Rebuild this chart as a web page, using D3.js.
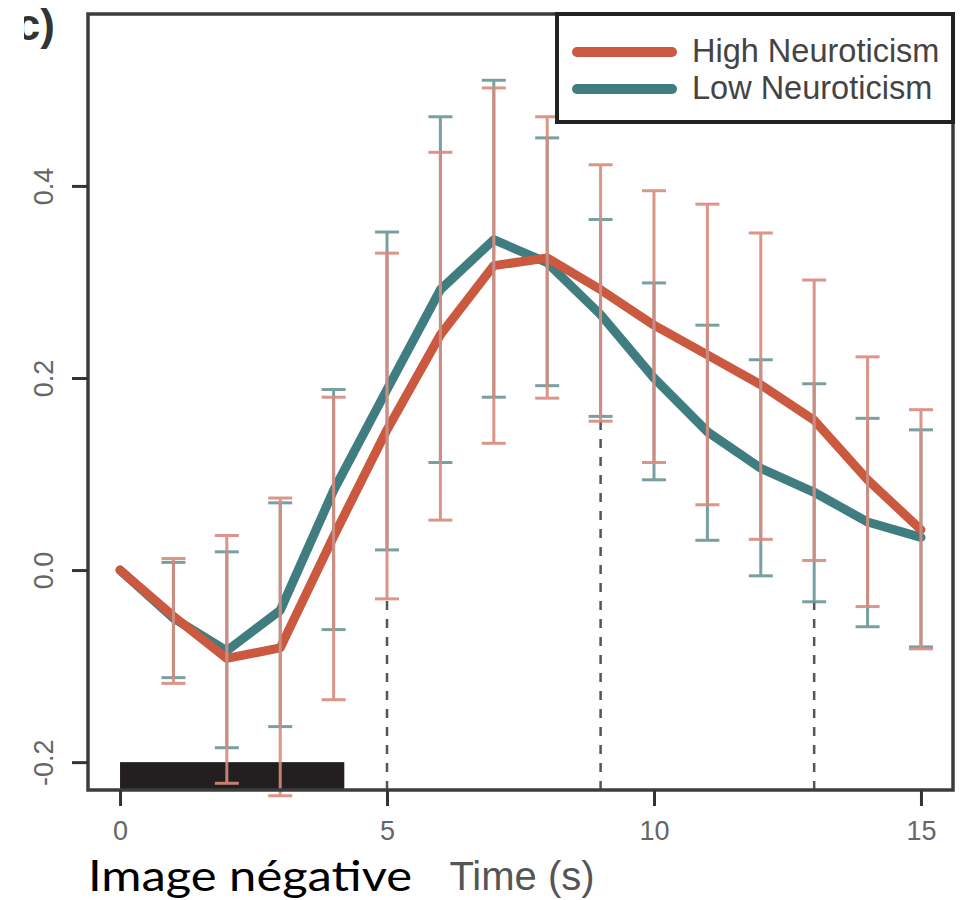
<!DOCTYPE html>
<html>
<head>
<meta charset="utf-8">
<script src="https://cdn.jsdelivr.net/npm/d3@7"></script>
<style>
  body { margin: 0; background: #fff; }
  svg { display: block; }
</style>
</head>
<body>
<svg id="chart" width="960" height="900"></svg>
<script>
// data
var times = [0, 1, 2, 3, 4, 5, 6, 7, 8, 9, 10, 11, 12, 13, 14, 15]
var highMean  = [0, -0.048, -0.092, -0.081, 0.035, 0.146, 0.245, 0.317, 0.325, 0.292, 0.255, 0.224, 0.193, 0.156, 0.094, 0.042]
var lowMean   = [0, -0.050, -0.084, -0.042, 0.083, 0.188, 0.292, 0.344, 0.320, 0.266, 0.200, 0.144, 0.106, 0.081, 0.050, 0.034]
var highLower = [null, -0.118, -0.222, -0.235, -0.135, -0.030, 0.052, 0.132, 0.179, 0.155, 0.112, 0.068, 0.032, 0.010, -0.038, -0.082]
var highUpper = [null, 0.012, 0.036, 0.075, 0.180, 0.330, 0.435, 0.502, 0.472, 0.422, 0.395, 0.381, 0.351, 0.302, 0.222, 0.167]
var lowLower  = [null, -0.112, -0.185, -0.163, -0.062, 0.021, 0.112, 0.180, 0.192, 0.160, 0.094, 0.031, -0.006, -0.033, -0.059, -0.080]
var lowUpper  = [null, 0.008, 0.019, 0.070, 0.188, 0.352, 0.472, 0.510, 0.450, 0.365, 0.299, 0.255, 0.219, 0.194, 0.158, 0.146]
var xTicks = [0, 5, 10, 15]
var yTicks = [-0.2, 0.0, 0.2, 0.4]
var markerTimes = [5, 9, 13]
var stimulus = {start: 0, end: 4.2, top: -0.2}
var groups = ["High Neuroticism", "Low Neuroticism"]

var colors = {
  "High Neuroticism": {line: "#ca5940", err: "#d98a7d"},
  "Low Neuroticism":  {line: "#3f7d80", err: "#6a9698"}
}

var box = {left: 88, right: 953, top: 14, bottom: 790}

var xScale = d3.scaleLinear().domain([-0.6, 15.6]).range([box.left, box.right])
var yScale = d3.scaleLinear().domain([-0.229, 0.579]).range([box.bottom, box.top])

var svg = d3.select("#chart")

var series = [
  {name: groups[0], mean: highMean, lower: highLower, upper: highUpper},
  {name: groups[1], mean: lowMean, lower: lowLower, upper: lowUpper}
]

// stimulus bar
svg.append("rect")
  .attr("x", xScale(stimulus.start))
  .attr("y", yScale(stimulus.top))
  .attr("width", xScale(stimulus.end) - xScale(stimulus.start))
  .attr("height", box.bottom - yScale(stimulus.top))
  .attr("fill", "#231f20")

// dashed markers, up to the lowest error bar at that time
svg.selectAll(".marker").data(markerTimes).enter().append("line")
  .attr("class", "marker")
  .attr("x1", d => xScale(d)).attr("x2", d => xScale(d))
  .attr("y1", box.bottom)
  .attr("y2", d => yScale(Math.min(highLower[times.indexOf(d)], lowLower[times.indexOf(d)])))
  .attr("stroke", "#555").attr("stroke-width", 2.5)
  .attr("stroke-dasharray", "9,9")

// mean lines (low first, high on top)
var line = d3.line().x((d, i) => xScale(times[i])).y(d => yScale(d))
series.slice().reverse().forEach(s => {
  svg.append("path")
    .datum(s.mean)
    .attr("d", line)
    .attr("fill", "none")
    .attr("stroke", colors[s.name].line)
    .attr("stroke-width", 9)
    .attr("stroke-linejoin", "round")
    .attr("stroke-linecap", "round")
})

// error bars
var capHalf = 12
series.slice().reverse().forEach(s => {
  var pts = times.map((t, i) => ({t: t, lo: s.lower[i], hi: s.upper[i]})).filter(d => d.lo !== null)
  var g = svg.append("g")
    .attr("stroke", colors[s.name].err)
    .attr("stroke-width", 3)
    .attr("opacity", 0.9)
  g.selectAll(".bar").data(pts).enter().append("line")
    .attr("x1", d => xScale(d.t)).attr("x2", d => xScale(d.t))
    .attr("y1", d => yScale(d.lo)).attr("y2", d => yScale(d.hi))
  g.selectAll(".capHi").data(pts).enter().append("line")
    .attr("x1", d => xScale(d.t) - capHalf).attr("x2", d => xScale(d.t) + capHalf)
    .attr("y1", d => yScale(d.hi)).attr("y2", d => yScale(d.hi))
  g.selectAll(".capLo").data(pts).enter().append("line")
    .attr("x1", d => xScale(d.t) - capHalf).attr("x2", d => xScale(d.t) + capHalf)
    .attr("y1", d => yScale(d.lo)).attr("y2", d => yScale(d.lo))
})

// box
svg.append("rect")
  .attr("x", box.left).attr("y", box.top)
  .attr("width", box.right - box.left).attr("height", box.bottom - box.top)
  .attr("fill", "none").attr("stroke", "#3c3c3c").attr("stroke-width", 3.5)

// axes
var fmtY = d => d3.format(".1f")(d).replace("\u2212", "-")
var xAxis = d3.axisBottom(xScale).tickValues(xTicks).tickSize(16).tickPadding(15).tickFormat(d3.format("d"))
var yAxis = d3.axisLeft(yScale).tickValues(yTicks).tickSize(16).tickFormat(fmtY)

var gx = svg.append("g").attr("transform", `translate(0,${box.bottom})`).call(xAxis)
gx.select(".domain").remove()
gx.selectAll("line").attr("stroke", "#333").attr("stroke-width", 3)
gx.selectAll("text").attr("fill", "#666").style("font", "27px 'Liberation Sans', Arial, sans-serif")

var gy = svg.append("g").attr("transform", `translate(${box.left},0)`).call(yAxis)
gy.select(".domain").remove()
gy.selectAll("line").attr("stroke", "#333").attr("stroke-width", 3)
gy.selectAll("text")
  .attr("fill", "#666")
  .attr("x", null).attr("dy", null)
  .attr("text-anchor", "middle")
  .attr("transform", "translate(-35,0) rotate(-90)")
  .style("font", "27px 'Liberation Sans', Arial, sans-serif")

// axis title
svg.append("text")
  .attr("x", 522).attr("y", 890)
  .attr("text-anchor", "middle")
  .attr("fill", "#555")
  .style("font", "40px 'Liberation Sans', Arial, sans-serif")
  .text("Time (s)")

// panel label, cut at the left like the source crop
svg.append("clipPath").attr("id", "labelClip")
  .append("rect").attr("x", 24).attr("y", 0).attr("width", 60).attr("height", 60)
svg.append("text")
  .attr("clip-path", "url(#labelClip)")
  .attr("x", 55).attr("y", 40)
  .attr("text-anchor", "end")
  .attr("fill", "#333")
  .style("font", "bold 44px 'Liberation Sans', Arial, sans-serif")
  .text("(c)")

// legend
var legend = svg.append("g")
legend.append("rect")
  .attr("x", 557).attr("y", 14).attr("width", 396).attr("height", 108)
  .attr("fill", "#fff").attr("stroke", "#222").attr("stroke-width", 4)
groups.forEach((name, i) => {
  var y = 52 + i * 37
  legend.append("line")
    .attr("x1", 577).attr("x2", 672).attr("y1", y).attr("y2", y)
    .attr("stroke", colors[name].line).attr("stroke-width", 10)
    .attr("stroke-linecap", "round")
  legend.append("text")
    .attr("x", 692).attr("y", y + 10)
    .attr("fill", "#444")
    .style("font", "32.5px 'Liberation Sans', Arial, sans-serif")
    .text(name)
})

// caption below the plot
svg.append("text")
  .attr("x", 88).attr("y", 891)
  .attr("fill", "#000")
  .attr("textLength", 324)
  .attr("lengthAdjust", "spacingAndGlyphs")
  .style("font", "43px Lato, 'Open Sans', sans-serif")
  .text("Image négative")
</script>
</body>
</html>
